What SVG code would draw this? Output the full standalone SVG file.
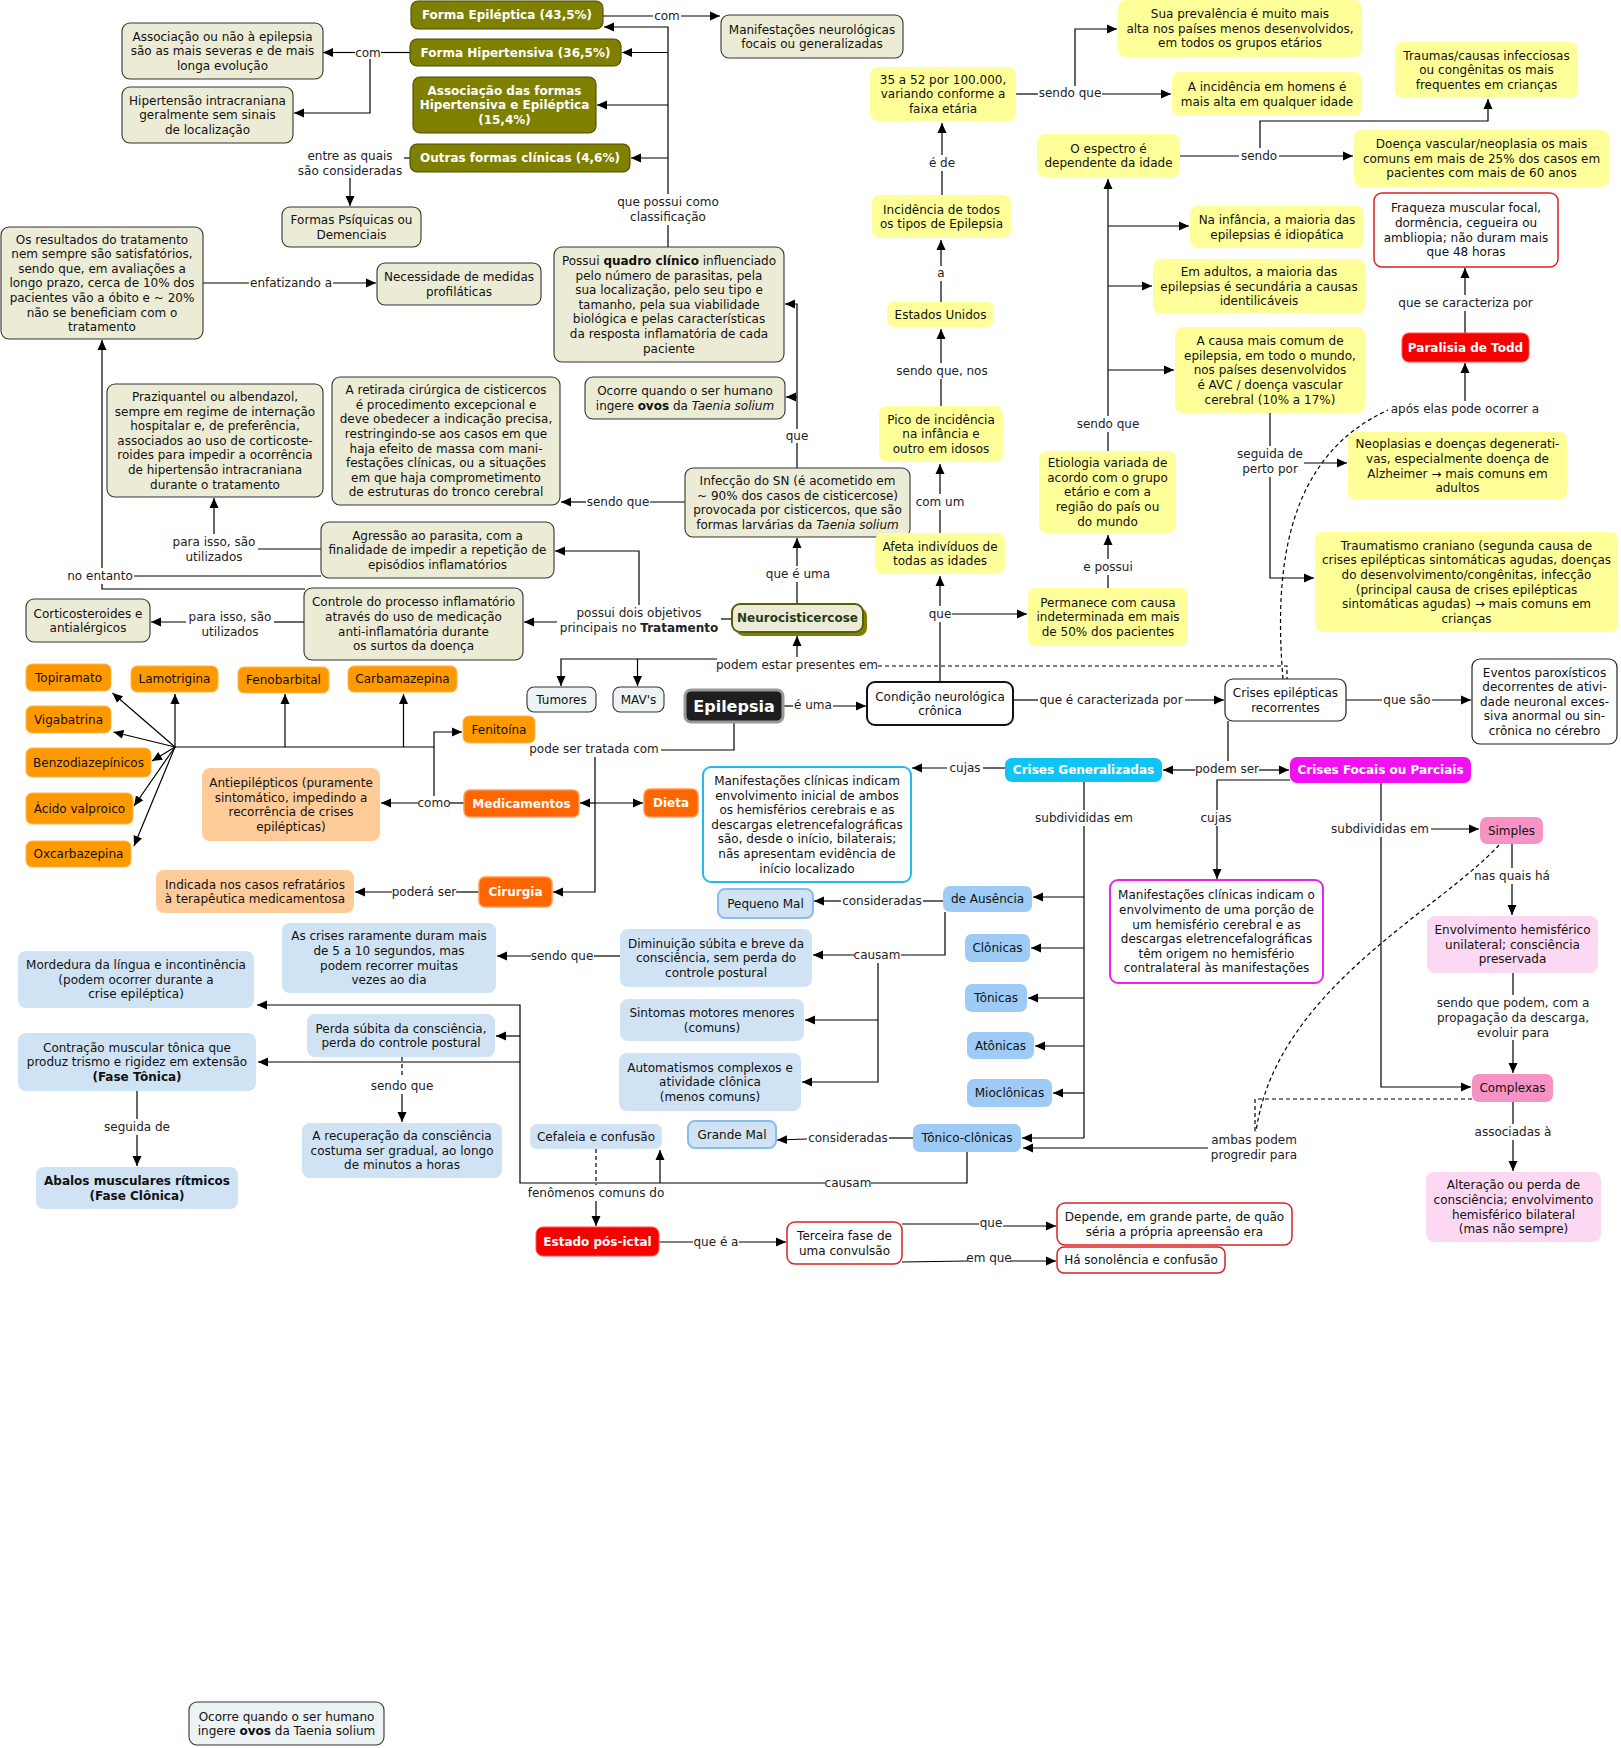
<svg xmlns="http://www.w3.org/2000/svg" width="1621" height="1748" viewBox="0 0 1621 1748">
<style>
text{font-family:"DejaVu Sans",Verdana,"Noto Sans",sans-serif;font-size:12px;text-anchor:middle;fill:#111}
.w{fill:#fff;font-weight:bold}
.ep{fill:#fff;font-weight:bold;font-size:16px}
.nc{fill:#1E3B18;font-weight:bold}
.bg{fill:#ECECD6;stroke:#333;stroke-width:1.1}
.ol{fill:#7F7F00;stroke:#4d4d00;stroke-width:1.1}
.ye{fill:#FFFF99}
.lbl{fill:#D0E3F4}
.mbl{fill:#9DCBF6}
.lbb{fill:#D0E3F4;stroke:#8BBDEB;stroke-width:2}
.or{fill:#FF9900;stroke:#FFB84D}
.dor{fill:#FF6600;stroke:#FF9A55;stroke-width:1.5}
.lor{fill:#FFCC99}
.red{fill:#F80000;stroke:#FF5555}
.wr{fill:#fff;stroke:#DD2222;stroke-width:1.5}
.wk{fill:#fff;stroke:#222;stroke-width:1.2}
.mag{fill:#F010F0}
.wm{fill:#fff;stroke:#EE22EE;stroke-width:2}
.cy{fill:#11C4F4}
.wc{fill:#fff;stroke:#22BBEE;stroke-width:2}
.pk{fill:#F792C4}
.lpk{fill:#FDD8F2}
.gb{fill:#EDF2F5;stroke:#333;stroke-width:1.1}
#connectors path{fill:none;stroke:#000;stroke-width:1.2}
#connectors path.a{marker-end:url(#ah)}
#connectors path.d{stroke-dasharray:4 3}
#connectors text{fill:#222}
</style>
<defs>
<marker id="ah" viewBox="0 0 10 10" refX="10" refY="5" markerWidth="10" markerHeight="10" markerUnits="userSpaceOnUse" orient="auto"><path d="M0,0.5 L10,5 L0,9.5 z" fill="#000"/></marker>
</defs>
<rect width="1621" height="1748" fill="#fff"/>

<g id="connectors">
<path d="M410,52.5 L381,52.5"/><path class="a" d="M355,52.5 L323,52.5"/><path class="a" d="M370,59 L370,113 L294,113"/>
<text x="368" y="56.8">com</text>
<path d="M603,16 L653,16"/><path class="a" d="M681,16 L720,16"/>
<text x="667" y="20.3">com</text>
<path d="M668,247 L668,225"/><path class="a" d="M668,194 L668,27 L604,27"/>
<path class="a" d="M668,52.5 L622,52.5"/><path class="a" d="M668,105 L597,105"/><path class="a" d="M668,158 L631,158"/>
<text x="668" y="206.3">que possui como</text><text x="668" y="220.9">classificação</text>
<path d="M410,158 L404,158"/><path class="a" d="M350,178 L350,206"/>
<text x="350" y="160.3">entre as quais</text><text x="350" y="174.9">são consideradas</text>
<path d="M203,283 L249,283"/><path class="a" d="M333,283 L376,283"/>
<text x="291" y="287.3">enfatizando a</text>
<path d="M321,576 L134,576"/><path d="M305,589 L102,589 L102,584"/><path class="a" d="M102,568 L102,340"/>
<text x="100" y="580.3">no entanto</text>
<path d="M321,549 L258,549"/><path class="a" d="M214,534 L214,498"/>
<text x="214" y="546.3">para isso, são</text><text x="214" y="560.9">utilizados</text>
<path d="M304,622 L274,622"/><path class="a" d="M186,622 L151,622"/>
<text x="230" y="621.3">para isso, são</text><text x="230" y="635.9">utilizados</text>
<path d="M732,619 L721,619"/><path class="a" d="M639,605 L639,551 L555,551"/><path class="a" d="M557,622 L524,622"/>
<text x="639" y="617.3">possui dois objetivos</text><text x="639" y="631.9">principais no <tspan font-weight="bold">Tratamento</tspan></text>
<path d="M685,502 L650,502"/><path class="a" d="M586,502 L561,502"/>
<text x="618" y="506.3">sendo que</text>
<path d="M797,468 L797,443"/><path class="a" d="M797,429 L797,304 L785,304"/><path class="a" d="M797,397 L786,397"/>
<text x="797" y="440.3">que</text>
<path d="M797,604 L797,582"/><path class="a" d="M797,566 L797,538"/>
<text x="798" y="578.3">que é uma</text>
<path class="a" d="M797,657 L797,636"/><path class="a" d="M717,659 L561,659 L561,686"/><path class="a" d="M637.5,659 L637.5,686"/>
<path class="d" d="M878,666 L1287,666 L1287,679"/>
<text x="797" y="669.3">podem estar presentes em</text>
<path d="M783,706 L793,706"/><path class="a" d="M833,706 L866,706"/>
<text x="813" y="709.3">é uma</text>
<path d="M734,722 L734,750 L661,750"/><path class="a" d="M595,757 L595,892 L553,892"/><path class="a" d="M595,803 L580,803"/><path class="a" d="M595,803 L643,803"/>
<text x="594" y="753.3">pode ser tratada com</text>
<path d="M464,803 L450,803"/><path class="a" d="M418,803 L381,803"/><path class="a" d="M434,796 L434,732 L462,732"/>
<path d="M434,747 L175,747"/>
<path class="a" d="M175,747 L175,694"/><path class="a" d="M285,747 L285,694"/><path class="a" d="M403.5,747 L403.5,694"/>
<path class="a" d="M175,747 L112.5,693"/><path class="a" d="M175,747 L113.5,732"/><path class="a" d="M175,747 L152,761"/><path class="a" d="M175,747 L134,806"/><path class="a" d="M175,747 L134,846"/>
<text x="434" y="807.3">como</text>
<path d="M479,892 L456,892"/><path class="a" d="M392,892 L355,892"/>
<text x="424" y="896.3">poderá ser</text>
<path d="M940,682 L940,622"/><path class="a" d="M940,606 L940,576"/><path class="a" d="M952,614 L1027,614"/>
<text x="940" y="618.3">que</text>
<path d="M940,533 L940,510"/><path class="a" d="M940,494 L940,464"/>
<text x="940" y="506.3">com um</text>
<path d="M941,406 L941,379"/><path class="a" d="M941,363 L941,329"/>
<text x="942" y="375.3">sendo que, nos</text>
<path d="M941,302 L941,281"/><path class="a" d="M941,266 L941,240"/>
<text x="941" y="277.3">a</text>
<path d="M942,195 L942,171"/><path class="a" d="M942,155 L942,123"/>
<text x="942" y="167.3">é de</text>
<path d="M1016,94 L1038,94"/><path class="a" d="M1102,94 L1171,94"/><path class="a" d="M1075,86 L1075,29 L1117,29"/>
<text x="1070" y="97.3">sendo que</text>
<path d="M1180,156 L1239,156"/><path class="a" d="M1279,156 L1353,156"/><path class="a" d="M1260,148 L1260,121 L1488,121 L1488,99"/>
<text x="1259" y="160.3">sendo</text>
<path d="M1108,451 L1108,432"/><path class="a" d="M1108,416 L1108,179"/>
<path class="a" d="M1108,226 L1189,226"/><path class="a" d="M1108,286 L1152,286"/><path class="a" d="M1108,370 L1174,370"/>
<text x="1108" y="428.3">sendo que</text>
<path d="M1108,588 L1108,575"/><path class="a" d="M1108,559 L1108,535"/>
<text x="1108" y="571.3">e possui</text>
<path d="M1270,413 L1270,446"/><path class="a" d="M1270,477 L1270,578 L1314,578"/><path class="a" d="M1304,463 L1347,463"/>
<text x="1270" y="458.3">seguida de</text><text x="1270" y="472.9">perto por</text>
<path d="M1465,333 L1465,311"/><path class="a" d="M1465,295 L1465,268"/>
<text x="1465.5" y="307.3">que se caracteriza por</text>
<path class="d" d="M1283,679 C1273,560 1290,455 1388,410"/><path class="a" d="M1465,401 L1465,363"/>
<text x="1465" y="413.3">após elas pode ocorrer a</text>
<path d="M1013,700 L1038,700"/><path class="a" d="M1185,700 L1224,700"/>
<text x="1111" y="704.3">que é caracterizada por</text>
<path d="M1346,700 L1382,700"/><path class="a" d="M1432,700 L1471,700"/>
<text x="1407" y="704.3">que são</text>
<path d="M1228,721 L1228,761"/><path class="a" d="M1195,770 L1163,770"/><path class="a" d="M1259,770 L1289,770"/>
<text x="1227" y="773.3">podem ser</text>
<path d="M1005,768 L983,768"/><path class="a" d="M947,768 L912,768"/>
<text x="965" y="772.3">cujas</text>
<path d="M1084,782 L1084,810"/><path d="M1084,826 L1084,1138"/>
<path class="a" d="M1084,897 L1033,897"/><path class="a" d="M1084,948 L1031,948"/><path class="a" d="M1084,998 L1028,998"/><path class="a" d="M1084,1046 L1035,1046"/><path class="a" d="M1084,1093 L1053,1093"/><path class="a" d="M1084,1138 L1022,1138"/>
<text x="1084" y="822.3">subdivididas em</text>
<path d="M943,901 L923,901"/><path class="a" d="M841,901 L814,901"/>
<text x="882" y="905.3">consideradas</text>
<path d="M945,912 L945,955 L901,955"/><path class="a" d="M854,955 L813,955"/><path class="a" d="M878,963 L878,1082 L802,1082"/><path class="a" d="M878,1020 L805,1020"/>
<text x="877" y="959.3">causam</text>
<path d="M620,956 L594,956"/><path class="a" d="M531,956 L497,956"/>
<text x="562" y="960.3">sendo que</text>
<path d="M913,1138 L889,1138"/><path class="a" d="M807,1139 L777,1140"/>
<text x="848" y="1142.3">consideradas</text>
<path d="M967,1152 L967,1183 L871,1183"/><path class="a" d="M825,1183 L520,1183 L520,1005 L257,1005"/><path class="a" d="M660,1183 L660,1150"/><path class="a" d="M520,1036 L496,1036"/><path class="a" d="M520,1062 L258,1062"/>
<text x="848" y="1187.3">causam</text>
<path class="d" d="M402,1057 L402,1078"/><path class="a" d="M402,1094 L402,1122"/>
<text x="402" y="1090.3">sendo que</text>
<path d="M137,1091 L137,1119"/><path class="a" d="M137,1135 L137,1166"/>
<text x="137" y="1131.3">seguida de</text>
<path class="d" d="M596,1149 L596,1185"/><path class="a" d="M596,1201 L596,1226"/>
<text x="596" y="1197.3">fenômenos comuns do</text>
<path d="M659,1242 L693,1242"/><path class="a" d="M739,1242 L786,1242"/>
<text x="716" y="1246.3">que é a</text>
<path d="M902,1224 L979,1224"/><path class="a" d="M1003,1226 L1056,1226"/>
<text x="991" y="1227.3">que</text>
<path d="M902,1262 L968,1261"/><path class="a" d="M1010,1261 L1056,1261"/>
<text x="989" y="1262.3">em que</text>
<path d="M1290,780 L1217,780 L1217,810"/><path class="a" d="M1217,826 L1217,879"/>
<text x="1216" y="822.3">cujas</text>
<path d="M1381,783 L1381,821"/><path class="a" d="M1381,837 L1381,1087 L1471,1087"/><path class="a" d="M1431,829 L1479,829"/>
<text x="1380" y="833.3">subdivididas em</text>
<path d="M1512,844 L1512,868"/><path class="a" d="M1512,884 L1512,915"/>
<text x="1512" y="880.3">nas quais há</text>
<path d="M1513,973 L1513,995"/><path class="a" d="M1513,1040 L1513,1073"/>
<text x="1513" y="1007.3">sendo que podem, com a</text><text x="1513" y="1021.9">propagação da descarga,</text><text x="1513" y="1036.5">evoluir para</text>
<path d="M1513,1102 L1513,1124"/><path class="a" d="M1513,1140 L1513,1171"/>
<text x="1513" y="1136.3">associadas à</text>
<path class="d" d="M1472,1099 L1255,1099 L1255,1132"/>
<path class="d" d="M1499,845 C1440,910 1275,990 1256,1132"/>
<path class="a" d="M1208,1148 L1023,1148"/>
<text x="1254" y="1144.3">ambas podem</text><text x="1254" y="1158.9">progredir para</text>
</g>

<g id="n_assoc_nao"><rect class="bg" x="122" y="23" width="201" height="56" rx="8"/><text x="222.5" y="40.7">Associação ou não à epilepsia</text><text x="222.5" y="55.3">são as mais severas e de mais</text><text x="222.5" y="69.9">longa evolução</text></g>
<g id="n_hip_intra"><rect class="bg" x="122" y="87" width="171" height="56" rx="8"/><text x="207.5" y="104.7">Hipertensão intracraniana</text><text x="207.5" y="119.3">geralmente sem sinais</text><text x="207.5" y="133.9">de localização</text></g>
<g id="n_forma_epi"><rect class="ol" x="411" y="1" width="192" height="28" rx="7"/><text class="w" x="507" y="19.3">Forma Epiléptica (43,5%)</text></g>
<g id="n_forma_hip"><rect class="ol" x="410" y="39" width="211" height="27" rx="7"/><text class="w" x="515.5" y="56.8">Forma Hipertensiva (36,5%)</text></g>
<g id="n_assoc_formas"><rect class="ol" x="413" y="77" width="183" height="56" rx="7"/><text class="w" x="504.5" y="94.7">Associação das formas</text><text class="w" x="504.5" y="109.3">Hipertensiva e Epiléptica</text><text class="w" x="504.5" y="123.9">(15,4%)</text></g>
<g id="n_outras"><rect class="ol" x="410" y="144" width="220" height="28" rx="7"/><text class="w" x="520" y="162.3">Outras formas clínicas (4,6%)</text></g>
<g id="n_psiquicas"><rect class="bg" x="282" y="207" width="139" height="40" rx="8"/><text x="351.5" y="224">Formas Psíquicas ou</text><text x="351.5" y="238.6">Demenciais</text></g>
<g id="n_resultados"><rect class="bg" x="1" y="227" width="202" height="112" rx="8"/><text x="102" y="243.5">Os resultados do tratamento</text><text x="102" y="258.1">nem sempre são satisfatórios,</text><text x="102" y="272.7">sendo que, em avaliações a</text><text x="102" y="287.3">longo prazo, cerca de 10% dos</text><text x="102" y="301.9">pacientes vão a óbito e ~ 20%</text><text x="102" y="316.5">não se beneficiam com o</text><text x="102" y="331.1">tratamento</text></g>
<g id="n_necessidade"><rect class="bg" x="377" y="263" width="164" height="42" rx="8"/><text x="459" y="281">Necessidade de medidas</text><text x="459" y="295.6">profiláticas</text></g>
<g id="n_praziq"><rect class="bg" x="107" y="384" width="216" height="113" rx="8"/><text x="215" y="401">Praziquantel ou albendazol,</text><text x="215" y="415.6">sempre em regime de internação</text><text x="215" y="430.2">hospitalar e, de preferência,</text><text x="215" y="444.8">associados ao uso de corticoste-</text><text x="215" y="459.4">roides para impedir a ocorrência</text><text x="215" y="474">de hipertensão intracraniana</text><text x="215" y="488.6">durante o tratamento</text></g>
<g id="n_retirada"><rect class="bg" x="332" y="377" width="228" height="128" rx="8"/><text x="446" y="394.2">A retirada cirúrgica de cisticercos</text><text x="446" y="408.8">é procedimento excepcional e</text><text x="446" y="423.4">deve obedecer a indicação precisa,</text><text x="446" y="438">restringindo-se aos casos em que</text><text x="446" y="452.6">haja efeito de massa com mani-</text><text x="446" y="467.2">festações clínicas, ou a situações</text><text x="446" y="481.8">em que haja comprometimento</text><text x="446" y="496.4">de estruturas do tronco cerebral</text></g>
<g id="n_manif_neuro"><rect class="bg" x="721" y="15" width="182" height="43" rx="8"/><text x="812" y="33.5">Manifestações neurológicas</text><text x="812" y="48.1">focais ou generalizadas</text></g>
<g id="n_possui"><rect class="bg" x="554" y="247" width="230" height="115" rx="8"/><text x="669" y="265">Possui <tspan font-weight="bold">quadro clínico</tspan> influenciado</text><text x="669" y="279.6">pelo número de parasitas, pela</text><text x="669" y="294.2">sua localização, pelo seu tipo e</text><text x="669" y="308.8">tamanho, pela sua viabilidade</text><text x="669" y="323.4">biológica e pelas características</text><text x="669" y="338">da resposta inflamatória de cada</text><text x="669" y="352.6">paciente</text></g>
<g id="n_ocorre1"><rect class="bg" x="585" y="377" width="200" height="42" rx="8"/><text x="685" y="395">Ocorre quando o ser humano</text><text x="685" y="409.6">ingere <tspan font-weight="bold">ovos</tspan> da <tspan font-style="italic">Taenia solium</tspan></text></g>
<g id="n_infeccao"><rect class="bg" x="685" y="468" width="225" height="69" rx="8"/><text x="797.5" y="484.9">Infecção do SN (é acometido em</text><text x="797.5" y="499.5">~ 90% dos casos de cisticercose)</text><text x="797.5" y="514.1">provocada por cisticercos, que são</text><text x="797.5" y="528.7">formas larvárias da <tspan font-style="italic">Taenia solium</tspan></text></g>
<g id="n_neuro"><rect x="736" y="608" width="131" height="28" rx="8" fill="#7F7F00"/><rect x="732" y="604" width="131" height="28" rx="8" fill="#ECECD6" stroke="#5C5C10" stroke-width="2"/><text class="nc" x="797.5" y="622.3">Neurocisticercose</text></g>
<g id="n_agressao"><rect class="bg" x="321" y="522" width="233" height="56" rx="8"/><text x="437.5" y="539.7">Agressão ao parasita, com a</text><text x="437.5" y="554.3">finalidade de impedir a repetição de</text><text x="437.5" y="568.9">episódios inflamatórios</text></g>
<g id="n_controle"><rect class="bg" x="304" y="588" width="219" height="72" rx="8"/><text x="413.5" y="606.4">Controle do processo inflamatório</text><text x="413.5" y="621">através do uso de medicação</text><text x="413.5" y="635.6">anti-inflamatória durante</text><text x="413.5" y="650.2">os surtos da doença</text></g>
<g id="n_cortico"><rect class="bg" x="26" y="599" width="124" height="43" rx="8"/><text x="88" y="617.5">Corticosteroides e</text><text x="88" y="632.1">antialérgicos</text></g>
<g id="n_topiramato"><rect class="or" x="26" y="664" width="85" height="27" rx="6"/><text x="68.5" y="681.8">Topiramato</text></g>
<g id="n_lamotrigina"><rect class="or" x="131" y="666" width="87" height="26" rx="6"/><text x="174.5" y="683.3">Lamotrigina</text></g>
<g id="n_fenobarbital"><rect class="or" x="238" y="667" width="91" height="26" rx="6"/><text x="283.5" y="684.3">Fenobarbital</text></g>
<g id="n_carbamazepina"><rect class="or" x="348" y="666" width="109" height="26" rx="6"/><text x="402.5" y="683.3">Carbamazepina</text></g>
<g id="n_vigabatrina"><rect class="or" x="26" y="706" width="85" height="27" rx="6"/><text x="68.5" y="723.8">Vigabatrina</text></g>
<g id="n_benzo"><rect class="or" x="26" y="748" width="125" height="29" rx="6"/><text x="88.5" y="766.8">Benzodiazepínicos</text></g>
<g id="n_acido"><rect class="or" x="26" y="793" width="107" height="31" rx="6"/><text x="79.5" y="812.8">Ácido valproico</text></g>
<g id="n_oxcarb"><rect class="or" x="26" y="841" width="105" height="26" rx="6"/><text x="78.5" y="858.3">Oxcarbazepina</text></g>
<g id="n_fenitoina"><rect class="or" x="463" y="716" width="72" height="27" rx="6"/><text x="499" y="733.8">Fenitoína</text></g>
<g id="n_antiepi"><rect class="lor" x="202" y="768" width="178" height="73" rx="8"/><text x="291" y="786.9">Antiepilépticos (puramente</text><text x="291" y="801.5">sintomático, impedindo a</text><text x="291" y="816.1">recorrência de crises</text><text x="291" y="830.7">epilépticas)</text></g>
<g id="n_medicamentos"><rect class="dor" x="464" y="790" width="115" height="27" rx="6"/><text class="w" x="521.5" y="807.8">Medicamentos</text></g>
<g id="n_dieta"><rect class="dor" x="644" y="789" width="54" height="28" rx="6"/><text class="w" x="671" y="807.3">Dieta</text></g>
<g id="n_cirurgia"><rect class="dor" x="479" y="877" width="73" height="30" rx="6"/><text class="w" x="515.5" y="896.3">Cirurgia</text></g>
<g id="n_indicada"><rect class="lor" x="156" y="870" width="198" height="43" rx="8"/><text x="255" y="888.5">Indicada nos casos refratários</text><text x="255" y="903.1">à terapêutica medicamentosa</text></g>
<g id="n_tumores"><rect class="gb" x="527" y="687" width="69" height="25" rx="7"/><text x="561.5" y="703.8">Tumores</text></g>
<g id="n_mavs"><rect class="gb" x="613" y="687" width="51" height="25" rx="7"/><text x="638.5" y="703.8">MAV's</text></g>
<g id="n_epilepsia"><rect x="685" y="690" width="98" height="32" rx="6" fill="#1E1E1E" stroke="#9A9A9A" stroke-width="3"/><text class="ep" x="734" y="711.5">Epilepsia</text></g>
<g id="n_condicao"><rect x="867" y="682" width="146" height="43" rx="8" fill="#fff" stroke="#111" stroke-width="2"/><text x="940" y="700.5">Condição neurológica</text><text x="940" y="715.1">crônica</text></g>
<g id="n_35a52"><rect class="ye" x="870" y="67" width="146" height="54" rx="8"/><text x="943" y="83.7">35 a 52 por 100.000,</text><text x="943" y="98.3">variando conforme a</text><text x="943" y="112.9">faixa etária</text></g>
<g id="n_incidencia"><rect class="ye" x="872" y="195" width="139" height="43" rx="8"/><text x="941.5" y="213.5">Incidência de todos</text><text x="941.5" y="228.1">os tipos de Epilepsia</text></g>
<g id="n_eua"><rect class="ye" x="887" y="302" width="107" height="25" rx="7"/><text x="940.5" y="318.8">Estados Unidos</text></g>
<g id="n_pico"><rect class="ye" x="879" y="406" width="124" height="56" rx="8"/><text x="941" y="423.7">Pico de incidência</text><text x="941" y="438.3">na infância e</text><text x="941" y="452.9">outro em idosos</text></g>
<g id="n_afeta"><rect class="ye" x="875" y="533" width="130" height="41" rx="8"/><text x="940" y="550.5">Afeta indivíduos de</text><text x="940" y="565.1">todas as idades</text></g>
<g id="n_permanece"><rect class="ye" x="1028" y="588" width="160" height="58" rx="8"/><text x="1108" y="606.7">Permanece com causa</text><text x="1108" y="621.3">indeterminada em mais</text><text x="1108" y="635.9">de 50% dos pacientes</text></g>
<g id="n_etiologia"><rect class="ye" x="1039" y="451" width="137" height="82" rx="8"/><text x="1107.5" y="467.1">Etiologia variada de</text><text x="1107.5" y="481.7">acordo com o grupo</text><text x="1107.5" y="496.3">etário e com a</text><text x="1107.5" y="510.9">região do país ou</text><text x="1107.5" y="525.5">do mundo</text></g>
<g id="n_espectro"><rect class="ye" x="1037" y="134" width="143" height="43" rx="8"/><text x="1108.5" y="152.5">O espectro é</text><text x="1108.5" y="167.1">dependente da idade</text></g>
<g id="n_prevalencia"><rect class="ye" x="1118" y="0" width="244" height="57" rx="8"/><text x="1240" y="18.2">Sua prevalência é muito mais</text><text x="1240" y="32.8">alta nos países menos desenvolvidos,</text><text x="1240" y="47.4">em todos os grupos etários</text></g>
<g id="n_homens"><rect class="ye" x="1172" y="72" width="190" height="44" rx="8"/><text x="1267" y="91">A incidência em homens é</text><text x="1267" y="105.6">mais alta em qualquer idade</text></g>
<g id="n_traumas"><rect class="ye" x="1395" y="42" width="183" height="56" rx="8"/><text x="1486.5" y="59.7">Traumas/causas infecciosas</text><text x="1486.5" y="74.3">ou congênitas os mais</text><text x="1486.5" y="88.9">frequentes em crianças</text></g>
<g id="n_doenca"><rect class="ye" x="1354" y="130" width="255" height="57" rx="8"/><text x="1481.5" y="148.2">Doença vascular/neoplasia os mais</text><text x="1481.5" y="162.8">comuns em mais de 25% dos casos em</text><text x="1481.5" y="177.4">pacientes com mais de 60 anos</text></g>
<g id="n_infancia"><rect class="ye" x="1190" y="206" width="174" height="42" rx="8"/><text x="1277" y="224">Na infância, a maioria das</text><text x="1277" y="238.6">epilepsias é idiopática</text></g>
<g id="n_adultos"><rect class="ye" x="1153" y="259" width="212" height="55" rx="8"/><text x="1259" y="276.2">Em adultos, a maioria das</text><text x="1259" y="290.8">epilepsias é secundária a causas</text><text x="1259" y="305.4">identilicáveis</text></g>
<g id="n_causa"><rect class="ye" x="1175" y="327" width="190" height="86" rx="8"/><text x="1270" y="345.1">A causa mais comum de</text><text x="1270" y="359.7">epilepsia, em todo o mundo,</text><text x="1270" y="374.3">nos países desenvolvidos</text><text x="1270" y="388.9">é AVC / doença vascular</text><text x="1270" y="403.5">cerebral (10% a 17%)</text></g>
<g id="n_neoplasias"><rect class="ye" x="1348" y="432" width="219" height="68" rx="8"/><text x="1457.5" y="448.4">Neoplasias e doenças degenerati-</text><text x="1457.5" y="463">vas, especialmente doença de</text><text x="1457.5" y="477.6">Alzheimer → mais comuns em</text><text x="1457.5" y="492.2">adultos</text></g>
<g id="n_traumatismo"><rect class="ye" x="1315" y="532" width="303" height="100" rx="8"/><text x="1466.5" y="549.8">Traumatismo craniano (segunda causa de</text><text x="1466.5" y="564.4">crises epilépticas sintomáticas agudas, doenças</text><text x="1466.5" y="579">do desenvolvimento/congênitas, infecção</text><text x="1466.5" y="593.6">(principal causa de crises epilépticas</text><text x="1466.5" y="608.2">sintomáticas agudas) → mais comuns em</text><text x="1466.5" y="622.8">crianças</text></g>
<g id="n_fraqueza"><rect class="wr" x="1374" y="193" width="184" height="74" rx="8"/><text x="1466" y="212.4">Fraqueza muscular focal,</text><text x="1466" y="227">dormência, cegueira ou</text><text x="1466" y="241.6">ambliopia; não duram mais</text><text x="1466" y="256.2">que 48 horas</text></g>
<g id="n_paralisia"><rect class="red" x="1402" y="333" width="127" height="29" rx="7"/><text class="w" x="1465.5" y="351.8">Paralisia de Todd</text></g>
<g id="n_crises_rec"><rect class="wk" x="1225" y="679" width="121" height="42" rx="8"/><text x="1285.5" y="697">Crises epilépticas</text><text x="1285.5" y="711.6">recorrentes</text></g>
<g id="n_eventos"><rect class="wk" x="1472" y="659" width="145" height="85" rx="8"/><text x="1544.5" y="676.6">Eventos paroxísticos</text><text x="1544.5" y="691.2">decorrentes de ativi-</text><text x="1544.5" y="705.8">dade neuronal exces-</text><text x="1544.5" y="720.4">siva anormal ou sin-</text><text x="1544.5" y="735">crônica no cérebro</text></g>
<g id="n_crises_gen"><rect class="cy" x="1005" y="758" width="157" height="24" rx="7"/><text class="w" x="1083.5" y="774.3">Crises Generalizadas</text></g>
<g id="n_crises_focais"><rect class="mag" x="1290" y="757" width="181" height="26" rx="7"/><text class="w" x="1380.5" y="774.3">Crises Focais ou Parciais</text></g>
<g id="n_manif_gen"><rect class="wc" x="703" y="767" width="208" height="115" rx="8"/><text x="807" y="785">Manifestações clínicas indicam</text><text x="807" y="799.6">envolvimento inicial de ambos</text><text x="807" y="814.2">os hemisférios cerebrais e as</text><text x="807" y="828.8">descargas eletrencefalográficas</text><text x="807" y="843.4">são, desde o início, bilaterais;</text><text x="807" y="858">nãs apresentam evidência de</text><text x="807" y="872.6">início localizado</text></g>
<g id="n_manif_focal"><rect class="wm" x="1110" y="880" width="213" height="103" rx="8"/><text x="1216.5" y="899.3">Manifestações clínicas indicam o</text><text x="1216.5" y="913.9">envolvimento de uma porção de</text><text x="1216.5" y="928.5">um hemisfério cerebral e as</text><text x="1216.5" y="943.1">descargas eletrencefalográficas</text><text x="1216.5" y="957.7">têm origem no hemisfério</text><text x="1216.5" y="972.3">contralateral às manifestações</text></g>
<g id="n_simples"><rect class="pk" x="1480" y="817" width="63" height="27" rx="7"/><text x="1511.5" y="834.8">Simples</text></g>
<g id="n_envolvimento"><rect class="lpk" x="1427" y="916" width="171" height="57" rx="8"/><text x="1512.5" y="934.2">Envolvimento hemisférico</text><text x="1512.5" y="948.8">unilateral; consciência</text><text x="1512.5" y="963.4">preservada</text></g>
<g id="n_complexas"><rect class="pk" x="1472" y="1074" width="81" height="28" rx="7"/><text x="1512.5" y="1092.3">Complexas</text></g>
<g id="n_alteracao"><rect class="lpk" x="1426" y="1172" width="175" height="70" rx="8"/><text x="1513.5" y="1189.4">Alteração ou perda de</text><text x="1513.5" y="1204">consciência; envolvimento</text><text x="1513.5" y="1218.6">hemisférico bilateral</text><text x="1513.5" y="1233.2">(mas não sempre)</text></g>
<g id="n_ausencia"><rect class="mbl" x="943" y="886" width="89" height="26" rx="7"/><text x="987.5" y="903.3">de Ausência</text></g>
<g id="n_clonicas"><rect class="mbl" x="965" y="934" width="65" height="28" rx="7"/><text x="997.5" y="952.3">Clônicas</text></g>
<g id="n_tonicas"><rect class="mbl" x="965" y="984" width="62" height="28" rx="7"/><text x="996" y="1002.3">Tônicas</text></g>
<g id="n_atonicas"><rect class="mbl" x="967" y="1032" width="67" height="27" rx="7"/><text x="1000.5" y="1049.8">Atônicas</text></g>
<g id="n_mioclonicas"><rect class="mbl" x="967" y="1079" width="85" height="28" rx="7"/><text x="1009.5" y="1097.3">Mioclônicas</text></g>
<g id="n_tonico_clonicas"><rect class="mbl" x="913" y="1124" width="108" height="28" rx="7"/><text x="967" y="1142.3">Tônico-clônicas</text></g>
<g id="n_pequeno_mal"><rect class="lbb" x="718" y="889" width="95" height="29" rx="7"/><text x="765.5" y="907.8">Pequeno Mal</text></g>
<g id="n_grande_mal"><rect class="lbb" x="688" y="1121" width="88" height="27" rx="7"/><text x="732" y="1138.8">Grande Mal</text></g>
<g id="n_diminuicao"><rect class="lbl" x="620" y="929" width="192" height="58" rx="8"/><text x="716" y="947.7">Diminuição súbita e breve da</text><text x="716" y="962.3">consciência, sem perda do</text><text x="716" y="976.9">controle postural</text></g>
<g id="n_sintomas"><rect class="lbl" x="620" y="999" width="184" height="42" rx="8"/><text x="712" y="1017">Sintomas motores menores</text><text x="712" y="1031.6">(comuns)</text></g>
<g id="n_automatismos"><rect class="lbl" x="619" y="1053" width="182" height="58" rx="8"/><text x="710" y="1071.7">Automatismos complexos e</text><text x="710" y="1086.3">atividade clônica</text><text x="710" y="1100.9">(menos comuns)</text></g>
<g id="n_as_crises"><rect class="lbl" x="282" y="923" width="214" height="70" rx="8"/><text x="389" y="940.4">As crises raramente duram mais</text><text x="389" y="955">de 5 a 10 segundos, mas</text><text x="389" y="969.6">podem recorrer muitas</text><text x="389" y="984.2">vezes ao dia</text></g>
<g id="n_mordedura"><rect class="lbl" x="18" y="951" width="236" height="57" rx="8"/><text x="136" y="969.2">Mordedura da língua e incontinência</text><text x="136" y="983.8">(podem ocorrer durante a</text><text x="136" y="998.4">crise epiléptica)</text></g>
<g id="n_perda"><rect class="lbl" x="307" y="1014" width="188" height="43" rx="8"/><text x="401" y="1032.5">Perda súbita da consciência,</text><text x="401" y="1047.1">perda do controle postural</text></g>
<g id="n_contracao"><rect class="lbl" x="18" y="1033" width="238" height="58" rx="8"/><text x="137" y="1051.7">Contração muscular tônica que</text><text x="137" y="1066.3">produz trismo e rigidez em extensão</text><text x="137" y="1080.9" font-weight="bold">(Fase Tônica)</text></g>
<g id="n_recuperacao"><rect class="lbl" x="302" y="1123" width="200" height="55" rx="8"/><text x="402" y="1140.2">A recuperação da consciência</text><text x="402" y="1154.8">costuma ser gradual, ao longo</text><text x="402" y="1169.4">de minutos a horas</text></g>
<g id="n_abalos"><rect class="lbl" x="36" y="1167" width="202" height="42" rx="8"/><text x="137" y="1185" font-weight="bold">Abalos musculares rítmicos</text><text x="137" y="1199.6" font-weight="bold">(Fase Clônica)</text></g>
<g id="n_cefaleia"><rect class="lbl" x="530" y="1124" width="132" height="25" rx="7"/><text x="596" y="1140.8">Cefaleia e confusão</text></g>
<g id="n_pos_ictal"><rect class="red" x="536" y="1227" width="123" height="29" rx="7"/><text class="w" x="597.5" y="1245.8">Estado pós-ictal</text></g>
<g id="n_terceira"><rect class="wr" x="787" y="1222" width="115" height="42" rx="8"/><text x="844.5" y="1240">Terceira fase de</text><text x="844.5" y="1254.6">uma convulsão</text></g>
<g id="n_depende"><rect class="wr" x="1057" y="1203" width="235" height="42" rx="8"/><text x="1174.5" y="1221">Depende, em grande parte, de quão</text><text x="1174.5" y="1235.6">séria a própria apreensão era</text></g>
<g id="n_sonolencia"><rect class="wr" x="1057" y="1247" width="168" height="26" rx="7"/><text x="1141" y="1264.3">Há sonolência e confusão</text></g>
<g id="n_ocorre2"><rect class="gb" x="189" y="1702" width="195" height="43" rx="8"/><text x="286.5" y="1720.5">Ocorre quando o ser humano</text><text x="286.5" y="1735.1">ingere <tspan font-weight="bold">ovos</tspan> da Taenia solium</text></g>
</svg>
